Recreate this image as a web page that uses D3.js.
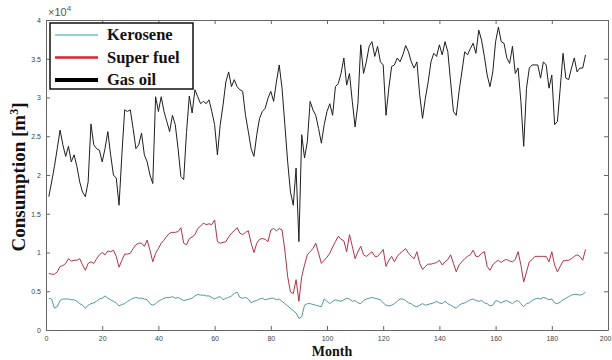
<!DOCTYPE html>
<html>
<head>
<meta charset="utf-8">
<script src="https://cdn.jsdelivr.net/npm/d3@7"></script>
<style>
  body { margin: 0; background: #fff; }
  svg { display: block; }
</style>
</head>
<body>
<div id="chart"></div>
<script>
// monthly consumption, in units of 10^4 m3 (month 1..192)
const gasOil = [
  1.72, 1.91, 2.11, 2.34, 2.58, 2.39, 2.24, 2.37, 2.17, 2.26,
  2.11, 1.91, 1.78, 1.72, 1.91, 2.66, 2.39, 2.34, 2.32, 2.17,
  2.34, 2.56, 2.26, 2.00, 1.96, 1.61, 2.26, 2.84, 2.82, 2.84,
  2.60, 2.34, 2.39, 2.54, 2.26, 2.17, 2.00, 1.89, 3.01, 2.82,
  3.01, 2.82, 2.69, 2.56, 2.77, 2.65, 2.34, 1.98, 1.94, 2.55,
  3.02, 2.80, 3.10, 3.01, 2.92, 2.95, 2.92, 2.97, 2.82, 2.65,
  2.26, 2.65, 2.90, 3.20, 3.33, 3.14, 3.23, 3.14, 3.10, 3.08,
  2.77, 2.56, 2.34, 2.24, 2.52, 2.73, 2.82, 2.86, 2.99, 3.08,
  2.95, 3.20, 3.42, 3.12, 2.65, 2.17, 1.78, 1.61, 2.09, 1.14,
  2.52, 2.22, 2.43, 2.95, 2.84, 2.77, 2.60, 2.41, 2.65, 2.82,
  2.92, 2.77, 3.14, 3.18, 3.31, 3.51, 3.16, 3.31, 2.95, 2.62,
  2.92, 3.68, 3.31, 3.46, 3.66, 3.72, 3.53, 3.66, 3.46, 3.42,
  2.77, 3.12, 3.40, 3.42, 3.51, 3.46, 3.55, 3.67, 3.59, 3.46,
  3.38, 3.46, 3.03, 2.73, 2.99, 3.20, 3.46, 3.57, 3.53, 3.68,
  3.55, 3.72, 3.59, 3.20, 2.82, 2.77, 3.08, 3.33, 3.59, 3.55,
  3.63, 3.70, 3.57, 3.87, 3.74, 3.53, 3.29, 3.14, 3.33, 3.72,
  3.91, 3.72, 3.70, 3.51, 3.44, 3.66, 3.31, 3.38, 2.95, 2.37,
  3.12, 3.38, 3.42, 3.42, 3.42, 3.25, 3.46, 3.42, 3.12, 3.29,
  2.65, 2.69, 3.12, 3.57, 3.25, 3.23, 3.38, 3.51, 3.33, 3.38,
  3.38, 3.55
];

const superFuel = [
  0.73, 0.72, 0.72, 0.75, 0.82, 0.83, 0.86, 0.92, 0.89, 0.90,
  0.90, 0.92, 0.84, 0.77, 0.86, 0.88, 0.86, 0.92, 0.97, 1.00,
  0.97, 1.02, 1.01, 1.03, 0.95, 0.81, 0.90, 0.98, 0.98, 0.99,
  1.05, 1.10, 1.12, 1.12, 1.08, 1.16, 1.03, 0.88, 0.99, 1.05,
  1.12, 1.16, 1.21, 1.25, 1.26, 1.26, 1.27, 1.32, 1.12, 1.10,
  1.18, 1.20, 1.23, 1.31, 1.34, 1.38, 1.36, 1.37, 1.36, 1.42,
  1.14, 1.12, 1.13, 1.14, 1.20, 1.25, 1.28, 1.32, 1.25, 1.23,
  1.26, 1.28, 1.12, 1.00, 1.12, 1.17, 1.18, 1.17, 1.14, 1.29,
  1.31, 1.28, 1.31, 1.29, 1.03, 0.69, 0.49, 0.47, 0.65, 0.37,
  0.69, 0.84, 0.97, 1.01, 1.05, 1.12, 0.99, 0.86, 0.90, 0.94,
  0.99, 1.07, 1.14, 1.21, 1.17, 1.15, 1.01, 1.23, 1.08, 0.92,
  1.01, 1.08, 0.97, 0.95, 0.98, 1.01, 0.95, 0.95, 0.99, 1.04,
  0.82, 0.90, 0.95, 0.88, 0.95, 0.99, 1.02, 1.05, 0.99, 0.95,
  0.92, 1.01, 0.86, 0.78, 0.82, 0.85, 0.85, 0.86, 0.87, 0.90,
  0.84, 0.88, 0.91, 0.97, 0.86, 0.75, 0.84, 0.88, 0.92, 0.95,
  0.97, 1.03, 0.95, 0.95, 0.99, 1.01, 0.82, 0.77, 0.84, 0.88,
  0.90, 0.87, 0.90, 0.91, 0.89, 0.88, 0.91, 1.01, 0.84, 0.62,
  0.75, 0.88, 0.91, 0.95, 0.95, 0.95, 0.95, 0.95, 0.88, 1.01,
  0.84, 0.75, 0.82, 0.89, 0.90, 0.90, 0.92, 0.95, 0.97, 0.95,
  0.90, 1.04
];

const kerosene = [
  0.41, 0.40, 0.28, 0.30, 0.38, 0.40, 0.40, 0.40, 0.39, 0.39,
  0.37, 0.34, 0.32, 0.28, 0.32, 0.34, 0.35, 0.37, 0.40, 0.41,
  0.44, 0.41, 0.39, 0.37, 0.35, 0.31, 0.33, 0.34, 0.37, 0.39,
  0.41, 0.42, 0.41, 0.41, 0.40, 0.39, 0.34, 0.32, 0.34, 0.37,
  0.39, 0.41, 0.42, 0.42, 0.43, 0.41, 0.42, 0.40, 0.38, 0.39,
  0.40, 0.41, 0.44, 0.46, 0.45, 0.45, 0.44, 0.44, 0.42, 0.40,
  0.42, 0.43, 0.39, 0.41, 0.42, 0.44, 0.47, 0.49, 0.42, 0.41,
  0.42, 0.40, 0.35, 0.37, 0.38, 0.40, 0.41, 0.39, 0.40, 0.41,
  0.41, 0.39, 0.40, 0.37, 0.34, 0.31, 0.28, 0.25, 0.22, 0.15,
  0.17, 0.32, 0.34, 0.34, 0.33, 0.32, 0.31, 0.30, 0.40, 0.37,
  0.34, 0.37, 0.39, 0.38, 0.37, 0.39, 0.41, 0.40, 0.37, 0.38,
  0.35, 0.34, 0.38, 0.40, 0.41, 0.42, 0.41, 0.40, 0.39, 0.35,
  0.32, 0.31, 0.32, 0.34, 0.37, 0.40, 0.40, 0.38, 0.35, 0.34,
  0.31, 0.30, 0.32, 0.34, 0.32, 0.33, 0.34, 0.35, 0.37, 0.35,
  0.34, 0.37, 0.34, 0.32, 0.30, 0.28, 0.32, 0.34, 0.35, 0.37,
  0.39, 0.40, 0.38, 0.37, 0.38, 0.35, 0.34, 0.31, 0.32, 0.38,
  0.37, 0.35, 0.37, 0.38, 0.36, 0.34, 0.37, 0.38, 0.34, 0.30,
  0.34, 0.35, 0.38, 0.40, 0.41, 0.40, 0.42, 0.41, 0.39, 0.40,
  0.35, 0.34, 0.36, 0.39, 0.41, 0.43, 0.45, 0.46, 0.46, 0.45,
  0.46, 0.49
];

const xTicks = [0, 20, 40, 60, 80, 100, 120, 140, 160, 180, 200];
const yTicks = [0, 0.5, 1, 1.5, 2, 2.5, 3, 3.5, 4];
const legendNames = ['Kerosene', 'Super fuel', 'Gas oil'];

const width = 612;
const height = 360;
const margin = { top: 20, right: 4, bottom: 30, left: 46 };
const innerW = width - margin.left - margin.right;
const innerH = height - margin.top - margin.bottom;

const svg = d3.select('#chart').append('svg')
  .attr('width', width)
  .attr('height', height);

svg.append('rect').attr('width', width).attr('height', height).attr('fill', '#fff');

const g = svg.append('g')
  .attr('transform', `translate(${margin.left},${margin.top})`);

const x = d3.scaleLinear().domain([0, 200]).range([0, innerW]);
const y = d3.scaleLinear().domain([0, 4]).range([innerH, 0]);

// axes, matlab style: ticks inside on every side
const tickFont = g => g.selectAll('text')
  .style('font-family', 'Liberation Sans, Arial, sans-serif')
  .style('font-size', '7px')
  .attr('fill', '#444');

const xAxis = g.append('g')
  .attr('transform', `translate(0,${innerH})`)
  .call(d3.axisBottom(x).tickValues(xTicks).tickSizeInner(-4).tickSizeOuter(0).tickPadding(6))
  .call(tickFont);
// last label would run past the page edge
xAxis.selectAll('.tick text').filter(d => d === 200).attr('text-anchor', 'end').attr('dx', 3);

g.append('g')
  .call(d3.axisLeft(y).tickValues(yTicks).tickSizeInner(-4).tickSizeOuter(0).tickPadding(5)
    .tickFormat(d3.format('~g')))
  .call(tickFont);

g.append('g')
  .call(d3.axisTop(x).tickValues(xTicks).tickSizeInner(-4).tickSizeOuter(0).tickFormat(''));

g.append('g')
  .attr('transform', `translate(${innerW},0)`)
  .call(d3.axisRight(y).tickValues(yTicks).tickSizeInner(-4).tickSizeOuter(0).tickFormat(''));

g.selectAll('.domain').attr('stroke', '#666');
g.selectAll('.tick line').attr('stroke', '#666');

// exponent label
const expo = svg.append('text')
  .attr('x', margin.left + 2)
  .attr('y', 16)
  .style('font-family', 'Liberation Sans, Arial, sans-serif')
  .style('font-size', '11px')
  .attr('fill', '#555');
expo.append('tspan').text('×10');
expo.append('tspan').attr('dy', -5).style('font-size', '8px').text('4');

// lines
const line = d3.line()
  .x((d, i) => x(i + 1))
  .y(d => y(d));

const series = [
  { data: kerosene, color: '#4f9a9c' },
  { data: superFuel, color: '#b03444' },
  { data: gasOil, color: '#1e1e1e' }
];

series.forEach(s => {
  g.append('path')
    .datum(s.data)
    .attr('fill', 'none')
    .attr('stroke', s.color)
    .attr('stroke-width', 1)
    .attr('stroke-linejoin', 'round')
    .attr('d', line);
});

// legend
const legend = svg.append('g').attr('transform', 'translate(50,23)');
legend.append('rect')
  .attr('width', 143).attr('height', 66)
  .attr('fill', '#fff').attr('stroke', '#111').attr('stroke-width', 1.5);

const legendColors = ['#8fd3da', '#d8232f', '#000'];
const legendWidths = [2, 2.5, 4];
legendNames.forEach((name, i) => {
  const ly = 12 + i * 22.5;
  legend.append('line')
    .attr('x1', 5).attr('x2', 48).attr('y1', ly).attr('y2', ly)
    .attr('stroke', legendColors[i]).attr('stroke-width', legendWidths[i]);
  legend.append('text')
    .attr('x', 57).attr('y', ly + 5)
    .text(name)
    .style('font-family', 'Liberation Serif, Times New Roman, serif')
    .style('font-weight', 'bold')
    .style('font-size', '16.5px')
    .attr('fill', '#111');
});

// axis titles
const yl = svg.append('text')
  .attr('transform', `translate(25,${margin.top + innerH / 2 + 2}) rotate(-90)`)
  .attr('text-anchor', 'middle')
  .style('font-family', 'Liberation Serif, Times New Roman, serif')
  .style('font-weight', 'bold')
  .style('font-size', '19px')
  .attr('fill', '#111');
yl.append('tspan').text('Consumption [m');
yl.append('tspan').attr('dy', -7).style('font-size', '12px').text('3');
yl.append('tspan').attr('dy', 7).text(']');

svg.append('text')
  .attr('x', margin.left + x(100) + 5)
  .attr('y', 356)
  .attr('text-anchor', 'middle')
  .style('font-family', 'Liberation Serif, Times New Roman, serif')
  .style('font-weight', 'bold')
  .style('font-size', '14px')
  .attr('fill', '#111')
  .text('Month');
</script>
</body>
</html>
